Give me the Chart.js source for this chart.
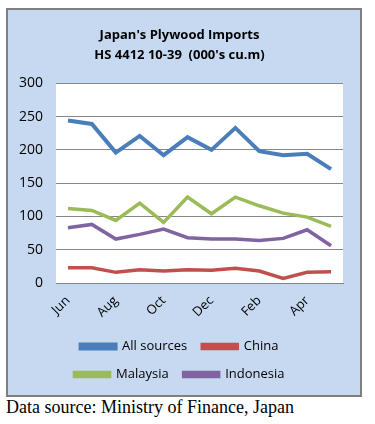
<!DOCTYPE html>
<html>
<head>
<meta charset="utf-8">
<script src="https://cdn.jsdelivr.net/npm/chart.js@4/dist/chart.umd.min.js"></script>
<style>
    body { margin: 0; background: #ffffff; width: 375px; height: 424px; position: relative; overflow: hidden; }
    #box { position: absolute; left: 6px; top: 8px; width: 352px; height: 385px; background: #c6d9f1; border: 2px solid #7f7f7f; }
    #chartWrap { position: absolute; left: 0; top: 0; width: 352px; height: 385px; }
    #source { position: absolute; left: 6px; top: 396px; font-family: "Liberation Serif", "Times New Roman", serif; font-size: 18px; line-height: 22px; color: #000; white-space: nowrap; }
</style>
</head>
<body>
<div id="box"><div id="chartWrap"><canvas id="myChart"></canvas></div></div>
<div id="source">Data source: Ministry of Finance, Japan</div>
<script>
// monthly imports, 000's cu.m (Jun .. May)
const months = ['Jun', 'Jul', 'Aug', 'Sep', 'Oct', 'Nov', 'Dec', 'Jan', 'Feb', 'Mar', 'Apr', 'May'];
const allSources = [244, 239, 196, 221, 192, 219, 200, 233, 198, 192, 194, 171];
const china = [23, 23, 16, 20, 18, 20, 19, 22, 18, 7, 16, 17];
const malaysia = [112, 109, 94, 120, 91, 129, 104, 129, 116, 105, 99, 85];
const indonesia = [83, 88, 66, 73, 81, 68, 66, 66, 64, 67, 80, 56];
const yTicks = [0, 50, 100, 150, 200, 250, 300];

const font = "'Open Sans', 'DejaVu Sans', sans-serif";

function line(label, data, color, width) {
    return {
        label: label,
        data: data,
        borderColor: color,
        backgroundColor: color,
        borderWidth: width,
        pointRadius: 0,
        tension: 0,
        fill: false
    };
}

const ctx = document.getElementById('myChart').getContext('2d');
const myChart = new Chart(ctx, {
    type: 'line',
    data: {
        labels: months,
        datasets: [
            line('All sources', allSources, '#4a7ebb', 4),
            line('China', china, '#c0504d', 3.5),
            line('Malaysia', malaysia, '#9bbb59', 3.5),
            line('Indonesia', indonesia, '#8064a2', 3.5)
        ]
    },
    plugins: [{
        id: 'plotBg',
        beforeDraw: function (chart) {
            const a = chart.chartArea;
            chart.ctx.save();
            chart.ctx.fillStyle = '#ffffff';
            chart.ctx.fillRect(a.left, a.top, a.right - a.left, a.bottom - a.top);
            chart.ctx.restore();
        }
    }],
    options: {
        responsive: true,
        maintainAspectRatio: false,
        animation: false,
        layout: { padding: { left: 8, right: 17, top: 0, bottom: 4 } },
        plugins: {
            title: {
                display: true,
                text: ["Japan's Plywood Imports", "HS 4412 10-39  (000's cu.m)"],
                color: '#000000',
                font: { family: font, size: 13, weight: 'bold', lineHeight: 1.55 },
                padding: { top: 15, bottom: 18 }
            },
            legend: {
                position: 'bottom',
                labels: {
                    color: '#000000',
                    font: { family: font, size: 13 },
                    boxWidth: 35,
                    boxHeight: 4,
                    padding: 15
                }
            },
            tooltip: { enabled: false }
        },
        scales: {
            x: {
                offset: true,
                grid: { display: false, drawTicks: false },
                border: { display: true, color: '#868686', width: 1 },
                ticks: {
                    color: '#000000',
                    font: { family: font, size: 13 },
                    autoSkip: false,
                    minRotation: 45,
                    maxRotation: 45,
                    padding: 10,
                    callback: function (value, index) {
                        return index % 2 === 0 ? months[index] : '';
                    }
                },
                afterFit: function (scale) { scale.height = 42; }
            },
            y: {
                min: 0,
                max: 300,
                afterBuildTicks: function (scale) {
                    scale.ticks = yTicks.map(function (v) { return { value: v }; });
                },
                grid: { color: '#868686', lineWidth: 1, drawTicks: false },
                border: { display: false },
                ticks: {
                    color: '#000000',
                    font: { family: font, size: 14 },
                    padding: 13
                },
                afterFit: function (scale) { scale.width = 40; }
            }
        }
    }
});
</script>
</body>
</html>
